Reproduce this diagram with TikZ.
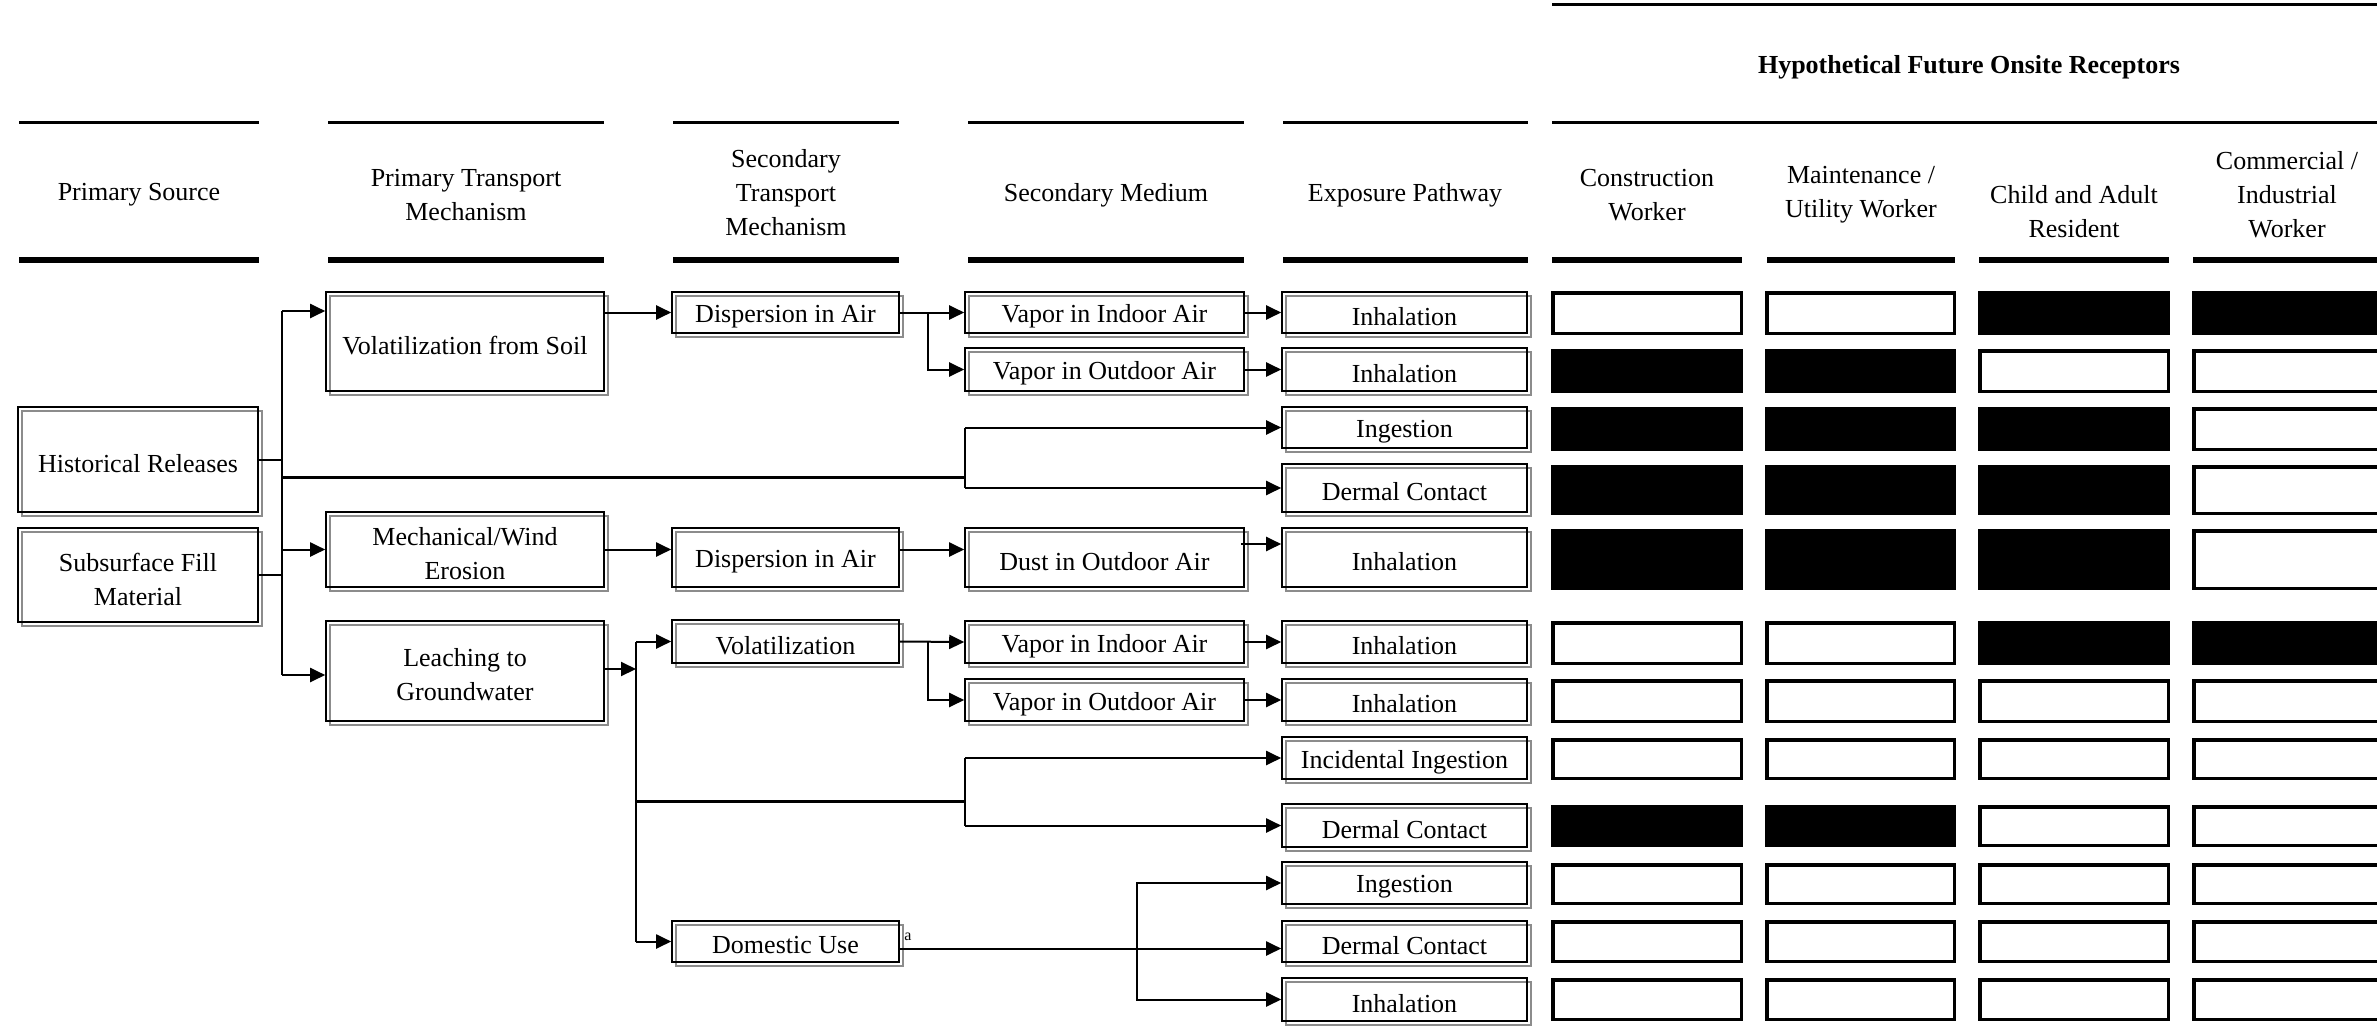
\documentclass[tikz,border=0pt]{standalone}
\usepackage{fontspec}
\setmainfont{Liberation Serif}
\usetikzlibrary{arrows.meta}
\tikzset{
  txt/.style={font=\fontsize{26}{34}\selectfont, align=center, inner sep=0pt},
  dbox/.style={draw=black, line width=1.6pt, rectangle, inner sep=0pt},
  shadowline/.style={draw=black!45, line width=2pt},
  rbox/.style={draw=black, line width=3.5pt, rectangle, inner sep=0pt},
  conn/.style={line width=2pt},
  thk/.style={line width=3pt},
  arr/.style={line width=2pt, -{Triangle[length=15pt,width=14pt]}},
  hthin/.style={line width=3pt},
  hthick/.style={line width=6.5pt},
}
\newcommand\dbx[6]{%
  \draw[shadowline] ({#2+4},{#3+4}) rectangle ({#4+4},{#5+4});
  \node[dbox, minimum width={#4-#2}, minimum height={#5-#3},
        label={[txt, yshift=-4pt, name=#1-t]center:#6}] (#1) at ({(#2+#4)/2},{(#3+#5)/2}) {};
}
\newcommand\rbx[6]{%
  \node[rbox, fill=#6, minimum width={#4-#2-3.5}, minimum height={#5-#3-3.5}] (#1) at ({(#2+#4)/2},{(#3+#5)/2}) {};
}
\begin{document}
\begin{tikzpicture}[x=1pt,y=-1pt]
\clip (0,0) rectangle (2377,1028);
\fill[white] (0,0) rectangle (2377,1028);

% header rules
\draw[hthin] (1552,4.5) -- (2377,4.5);
\foreach \a/\b in {19/259,328/604,673/899,968/1244,1283/1528,1552/2377}
  \draw[hthin] (\a,122) -- (\b,122);
\foreach \a/\b in {19/259,328/604,673/899,968/1244,1283/1528,1552/1742,1767/1955,1979/2169,2193/2377}
  \draw[hthick] (\a,260) -- (\b,260);

% header texts
\node[txt, font=\fontsize{26}{34}\selectfont\bfseries] (hyp) at (1969,67) {Hypothetical Future Onsite Receptors};
\node[txt] (h1) at (139,195) {Primary Source};
\node[txt] (h2) at (466,195) {Primary Transport\\Mechanism};
\node[txt] (h3) at (786,193) {Secondary\\Transport\\Mechanism};
\node[txt] (h4) at (1106,195) {Secondary Medium};
\node[txt] (h5) at (1405,195) {Exposure Pathway};
\node[txt] (h6) at (1647,195) {Construction\\Worker};
\node[txt] (h7) at (1861,195) {Maintenance /\\Utility Worker};
\node[txt] (h8) at (2074,212) {Child and Adult\\Resident};
\node[txt] (h9) at (2287,195) {Commercial /\\Industrial\\Worker};

% column 1
\dbx{hist}{18}{407}{258}{512}{Historical Releases}
\dbx{sub}{18}{528}{258}{622}{Subsurface Fill\\Material}
% column 2
\dbx{vfs}{326}{292}{604}{391}{Volatilization from Soil}
\dbx{mech}{326}{512}{604}{587}{Mechanical/Wind\\Erosion}
\dbx{leach}{326}{621}{604}{721}{Leaching to\\Groundwater}
% column 3
\dbx{disp1}{672}{292}{899}{333}{Dispersion in Air}
\dbx{disp2}{672}{528}{899}{587}{Dispersion in Air}
\dbx{vol}{672}{620}{899}{663}{Volatilization}
\dbx{dom}{672}{921}{899}{962}{Domestic Use}
\node[inner sep=0pt, font=\fontsize{16}{18}\selectfont] (sup) at (908,937) {a};
% column 4
\dbx{viA}{965}{292}{1244}{333}{Vapor in Indoor Air}
\dbx{voA}{965}{348}{1244}{391}{Vapor in Outdoor Air}
\dbx{dust}{965}{528}{1244}{587}{Dust in Outdoor Air}
\dbx{viB}{965}{621}{1244}{663}{Vapor in Indoor Air}
\dbx{voB}{965}{679}{1244}{721}{Vapor in Outdoor Air}
% column 5
\dbx{inh1}{1282}{292}{1527}{333}{Inhalation}
\dbx{inh2}{1282}{348}{1527}{391}{Inhalation}
\dbx{ing1}{1282}{407}{1527}{448}{Ingestion}
\dbx{derm1}{1282}{464}{1527}{512}{Dermal Contact}
\dbx{inh3}{1282}{528}{1527}{587}{Inhalation}
\dbx{inh4}{1282}{621}{1527}{663}{Inhalation}
\dbx{inh5}{1282}{679}{1527}{721}{Inhalation}
\dbx{incid}{1282}{737}{1527}{779}{Incidental Ingestion}
\dbx{derm2}{1282}{804}{1527}{847}{Dermal Contact}
\dbx{ing2}{1282}{862}{1527}{904}{Ingestion}
\dbx{derm3}{1282}{921}{1527}{962}{Dermal Contact}
\dbx{inh6}{1282}{978}{1527}{1021}{Inhalation}

% receptor boxes
\foreach \r/\ya/\yb/\fa/\fb/\fc/\fd in {
  1/291/335/white/white/black/black,
  2/349/393/black/black/white/white,
  3/407/451/black/black/black/white,
  4/465/515/black/black/black/white,
  5/529/590/black/black/black/white,
  6/621/665/white/white/black/black,
  7/679/723/white/white/white/white,
  8/738/780/white/white/white/white,
  9/805/847/black/black/white/white,
  10/863/905/white/white/white/white,
  11/920/963/white/white/white/white,
  12/978/1021/white/white/white/white}{
  \rbx{r\r a}{1551}{\ya}{1743}{\yb}{\fa}
  \rbx{r\r b}{1765}{\ya}{1956}{\yb}{\fb}
  \rbx{r\r c}{1978}{\ya}{2170}{\yb}{\fc}
  \rbx{r\r d}{2192}{\ya}{2400}{\yb}{\fd}
}

% connectors: sources
\coordinate (t1) at (282,311);
\coordinate (t1b) at (282,675);
\draw[conn] (hist.east) -- (hist.east -| t1);
\draw[conn] (sub.east) -- (sub.east -| t1);
\draw[conn] (t1) -- (t1b);
\draw[arr] (t1) -- (vfs.west |- t1);
\draw[arr] (mech.west -| t1) -- (mech.west);
\draw[arr] (t1b) -- (leach.west |- t1b);
\coordinate (t2) at (965,477);
\draw[thk] (t1 |- t2) -- (t2);
\draw[conn] (t2 |- ing1.west) -- (t2 |- derm1.west);
\draw[arr] (t2 |- ing1.west) -- (ing1.west);
\draw[arr] (t2 |- derm1.west) -- (derm1.west);

% primary transport to secondary
\draw[arr] (vfs.east |- disp1.west) -- (disp1.west);
\draw[arr] (mech.east) -- (disp2.west |- mech.east);
\coordinate (t3) at (636,669);
\draw[arr] (leach.east |- t3) -- (t3);
\draw[conn] (t3 |- vol.west) -- (t3 |- dom.west);
\draw[arr] (t3 |- vol.west) -- (vol.west);
\draw[arr] (t3 |- dom.west) -- (dom.west);
\coordinate (t4) at (965,801);
\draw[thk] (t3 |- t4) -- (t4);
\draw[conn] (t4 |- incid.west) -- (t4 |- derm2.west);
\draw[arr] (t4 |- incid.west) -- (incid.west);
\draw[arr] (t4 |- derm2.west) -- (derm2.west);

% secondary to media
\coordinate (s1) at (928,0);
\draw[arr] (disp1.east) -- (viA.west);
\draw[arr] (s1 |- disp1.east) |- (voA.west);
\draw[arr] (disp2.east |- mech.east) -- (dust.west |- mech.east);
\draw[arr] (vol.east) -- (viB.west);
\draw[arr] (s1 |- vol.east) |- (voB.west);

% media to pathways
\draw[arr] (viA.east) -- (inh1.west);
\draw[arr] (voA.east) -- (inh2.west);
\draw[arr] ([xshift=-4pt,yshift=13.5pt]dust.east) -- ([yshift=13.5pt]inh3.west);
\draw[arr] (viB.east) -- (inh4.west);
\draw[arr] (voB.east) -- (inh5.west);
\draw[arr] ([yshift=-7pt]dom.east) -- ([yshift=-7pt]derm3.west);
\coordinate (t5) at (1137,949);
\draw[arr] (t5) |- (ing2.west);
\draw[arr] (t5) |- (inh6.west);
\end{tikzpicture}
\end{document}
